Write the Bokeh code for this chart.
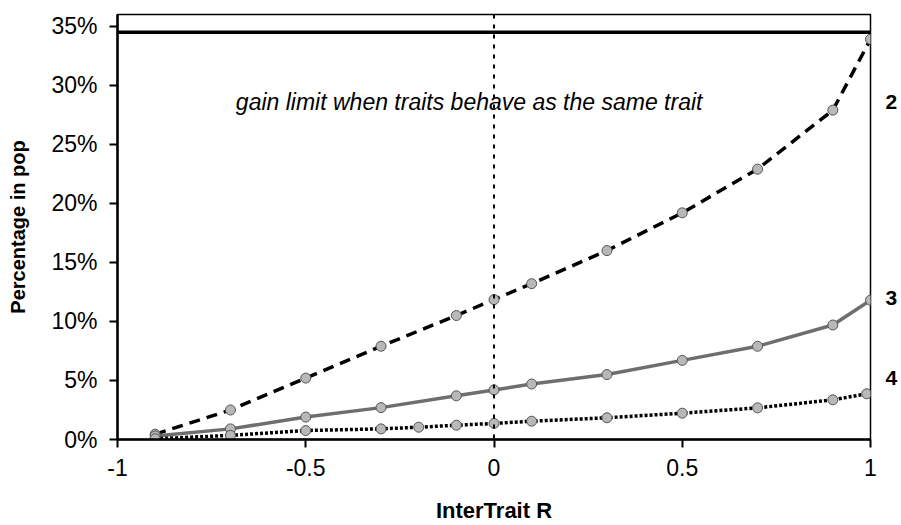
from bokeh.plotting import figure
from bokeh.models import Range1d, Span, Label, FixedTicker, PrintfTickFormatter, LinearAxis
from bokeh.embed import file_html
from bokeh.resources import INLINE

# ---- data ----
r_main = [-0.9, -0.7, -0.5, -0.3, -0.1, 0.0, 0.1, 0.3, 0.5, 0.7, 0.9, 1.0]
traits2 = [0.45, 2.5, 5.2, 7.9, 10.5, 11.85, 13.2, 16.0, 19.2, 22.9, 27.9, 33.9]
traits3 = [0.3, 0.9, 1.9, 2.7, 3.7, 4.2, 4.7, 5.5, 6.7, 7.9, 9.7, 11.8]
r_four = [-0.9, -0.7, -0.5, -0.3, -0.2, -0.1, 0.0, 0.1, 0.3, 0.5, 0.7, 0.9, 0.99]
traits4 = [0.06, 0.35, 0.76, 0.9, 1.04, 1.21, 1.36, 1.55, 1.84, 2.23, 2.68, 3.36, 3.87]
gain_limit = 34.5
x_ticks = [-1, -0.5, 0, 0.5, 1]
x_tick_labels = ["-1", "-0.5", "0", "0.5", "1"]
y_ticks = [0, 5, 10, 15, 20, 25, 30, 35]
series_labels = ["2", "3", "4"]
series_label_y = [28.6, 12.0, 5.2]
note_text = "gain limit when traits behave as the same trait"

FONT = "Liberation Sans"

p = figure(width=901, height=525, output_backend="svg", toolbar_location=None,
           x_range=Range1d(-1, 1), y_range=Range1d(0, 36),
           min_border_left=117, min_border_right=31, min_border_top=14, min_border_bottom=86)
p.grid.visible = False
p.outline_line_color = "black"
p.outline_line_width = 1.5
p.background_fill_color = "white"
p.border_fill_color = "white"

# axes
for ax in (p.xaxis[0], p.yaxis[0]):
    ax.axis_line_width = 2.5
    ax.axis_line_color = "black"
    ax.major_tick_line_width = 2
    ax.major_tick_line_color = "black"
    ax.major_tick_in = 0
    ax.major_tick_out = 8
    ax.minor_tick_line_color = None
    ax.major_label_text_font = FONT
    ax.major_label_text_font_size = "23px"
    ax.major_label_text_color = "black"
    ax.major_label_text_line_height = 1.0
    ax.axis_label_text_font = FONT
    ax.axis_label_text_font_style = "bold"
    ax.axis_label_text_color = "black"
    ax.axis_label_text_line_height = 1.0

p.xaxis.ticker = FixedTicker(ticks=x_ticks)
p.xaxis.major_label_overrides = {t: l for t, l in zip(x_ticks, x_tick_labels)}
p.xaxis.major_label_standoff = 11
p.xaxis.axis_label = "InterTrait R"
p.xaxis.axis_label_text_font_size = "22px"
p.xaxis.axis_label_standoff = 19

p.yaxis.ticker = FixedTicker(ticks=y_ticks)
p.yaxis.formatter = PrintfTickFormatter(format="%d%%")
p.yaxis.major_label_standoff = 12
p.yaxis.axis_label = "Percentage in pop"
p.yaxis.axis_label_text_font_size = "20px"
p.yaxis.axis_label_standoff = 19

# right-side series labels as an axis without line/ticks
right = LinearAxis(ticker=FixedTicker(ticks=series_label_y),
                   major_label_overrides={y: l for y, l in zip(series_label_y, series_labels)},
                   axis_line_color=None, major_tick_line_color=None, minor_tick_line_color=None,
                   major_tick_in=0, major_tick_out=0,
                   major_label_standoff=15, major_label_text_font=FONT,
                   major_label_text_font_size="21px", major_label_text_font_style="bold",
                   major_label_text_color="black")
p.add_layout(right, "right")

# reference lines
p.add_layout(Span(location=gain_limit, dimension="width", line_color="black", line_width=3.5))
p.add_layout(Span(location=0, dimension="height", line_color="black", line_width=2,
                  line_dash="4 6"))

# series lines
p.line(r_main, traits2, line_color="black", line_width=3.5, line_dash="11 7")
p.line(r_main, traits3, line_color="#6e6e6e", line_width=3.5)
p.line(r_four, traits4, line_color="black", line_width=3.5, line_dash="3 2")

# markers
for xs, ys in ((r_main, traits2), (r_main, traits3), (r_four, traits4)):
    p.scatter(xs, ys, size=10, fill_color="#b8b8b8", line_color="#555555", line_width=1)

# annotation
p.add_layout(Label(x=-0.066, y=28.6, text=note_text, text_font=FONT, text_font_size="23px",
                   text_font_style="italic", text_align="center", text_baseline="middle",
                   text_color="black"))

open("out.html", "w").write(file_html(p, INLINE))
